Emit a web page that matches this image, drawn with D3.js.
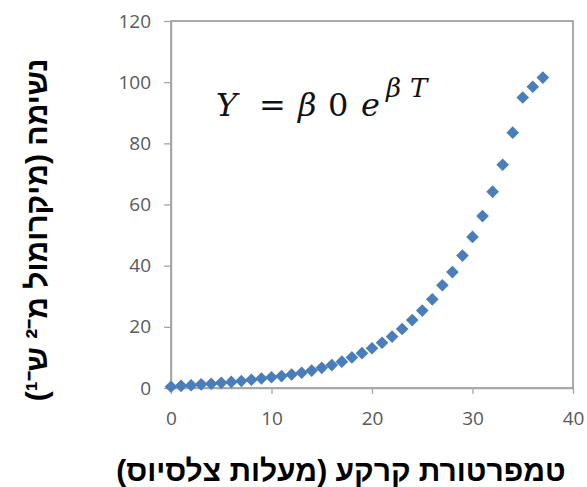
<!DOCTYPE html>
<html>
<head>
<meta charset="utf-8">
<script src="https://cdn.jsdelivr.net/npm/d3@7"></script>
<style>
	body { margin: 0; background: #fff; }
	.tick text { font-family: "Open Sans", sans-serif; font-size: 19px; fill: #595959; }
	.title { font-family: "Liberation Sans", Arial, sans-serif; font-weight: bold; fill: #000; }
	.formula { font-family: "DejaVu Serif", serif; fill: #111; }
</style>
</head>
<body>
<svg id="chart" width="587" height="487"></svg>
<script>
// soil temperature (deg C) and respiration
var temperature = [0,1,2,3,4,5,6,7,8,9,10,11,12,13,14,15,16,17,18,19,
                   20,21,22,23,24,25,26,27,28,29,30,31,32,33,34,35,36,37];
var respiration = [0.4,0.7,0.9,1.2,1.4,1.7,2.0,2.3,2.7,3.1,3.5,3.9,4.4,5.0,5.7,6.6,7.5,8.6,10.0,11.4,
                   13.0,14.8,16.8,19.3,22.2,25.3,29.0,33.6,37.9,43.3,49.4,56.2,64.2,73.0,83.5,95.0,98.5,101.5];
var xTicks = [0,10,20,30,40];
var yTicks = [0,20,40,60,80,100,120];
var xTitle = 'טמפרטורת קרקע (מעלות צלסיוס)';
var yTitle = 'נשימה (מיקרומול מ⁻² ש⁻¹)';

var svg = d3.select('#chart');

var plotLeft = 171, plotRight = 573, plotTop = 21, plotBottom = 388;
var x = d3.scaleLinear().domain([0,40]).range([plotLeft,plotRight]);
var y = d3.scaleLinear().domain([0,120]).range([plotBottom,plotTop]);

// plot frame
svg.append('rect')
	.attr('x',plotLeft).attr('y',plotTop)
	.attr('width',plotRight-plotLeft).attr('height',plotBottom-plotTop)
	.attr('fill','none')
	.attr('stroke','#7f7f7f')
	.attr('stroke-width',1.3)

var yAxis = svg.append('g')
	.attr('transform','translate(' + plotLeft + ',0)')
	.call(d3.axisLeft(y).tickValues(yTicks).tickSize(7).tickPadding(13).tickSizeOuter(0))
var xAxis = svg.append('g')
	.attr('transform','translate(0,' + plotBottom + ')')
	.call(d3.axisBottom(x).tickValues(xTicks).tickSize(6).tickPadding(18).tickSizeOuter(0))

svg.selectAll('.domain').attr('stroke','#a6a6a6').attr('stroke-width',1.5)
svg.selectAll('.tick line').attr('stroke','#a6a6a6').attr('stroke-width',1.3)

// data points: squares turned 45 deg
var diamond = d3.symbol().type(d3.symbolSquare).size(80);
svg.append('g')
	.selectAll('path')
	.data(temperature)
	.enter()
	.append('path')
	.attr('d',diamond)
	.attr('transform',function(d,i){
		return 'translate(' + x(d) + ',' + y(respiration[i]) + ') rotate(45)';
	})
	.attr('fill','#4a7ebb')

// axis titles
svg.append('text')
	.attr('class','title')
	.attr('x',341).attr('y',481)
	.attr('text-anchor','middle')
	.attr('direction','rtl')
	.style('font-size','30px')
	.text(xTitle)

svg.append('text')
	.attr('class','title')
	.attr('transform','translate(47,230) rotate(-90)')
	.attr('text-anchor','middle')
	.attr('direction','rtl')
	.style('font-size','30px')
	.text(yTitle)

// formula
var f = svg.append('g').attr('class','formula');
f.append('text').attr('x',216).attr('y',116).style('font-size','32px').style('font-style','italic').text('Y')
f.append('text').attr('x',259).attr('y',116).style('font-size','32px').text('=')
f.append('text').attr('x',298).attr('y',116).style('font-size','32px').style('font-style','italic').text('β')
f.append('text').attr('x',328).attr('y',116).style('font-size','32px').text('0')
f.append('text').attr('x',361).attr('y',116).style('font-size','32px').style('font-style','italic').text('e')
f.append('text').attr('x',386).attr('y',97).style('font-size','26px').style('font-style','italic').text('β')
f.append('text').attr('x',410).attr('y',97).style('font-size','26px').style('font-style','italic').text('T')
</script>
</body>
</html>
